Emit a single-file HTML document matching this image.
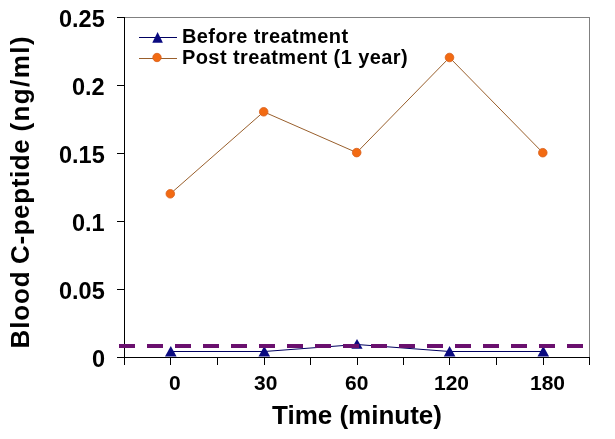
<!DOCTYPE html>
<html>
<head>
<meta charset="utf-8">
<style>
html,body{margin:0;padding:0;background:#fff;}
body{width:615px;height:439px;overflow:hidden;}
svg{display:block;}
text{font-family:"Liberation Sans",Arial,sans-serif;font-weight:bold;fill:#000;}
</style>
</head>
<body>
<svg width="615" height="439" viewBox="0 0 615 439">
<rect x="0" y="0" width="615" height="439" fill="#fff"/>
<!-- plot border (top/right gray) -->
<line x1="124" y1="17.5" x2="590" y2="17.5" stroke="#808080" stroke-width="1"/>
<line x1="589.5" y1="17" x2="589.5" y2="357" stroke="#808080" stroke-width="1"/>
<!-- y axis -->
<line x1="124.5" y1="17" x2="124.5" y2="365" stroke="#000" stroke-width="1"/>
<!-- y ticks -->
<g stroke="#000" stroke-width="1">
<line x1="117" y1="17.5" x2="124" y2="17.5"/>
<line x1="117" y1="85.5" x2="124" y2="85.5"/>
<line x1="117" y1="153.5" x2="124" y2="153.5"/>
<line x1="117" y1="221.5" x2="124" y2="221.5"/>
<line x1="117" y1="289.5" x2="124" y2="289.5"/>
<line x1="117" y1="357.5" x2="124" y2="357.5"/>
</g>
<!-- x axis -->
<line x1="124" y1="357.5" x2="590" y2="357.5" stroke="#000" stroke-width="1"/>
<g stroke="#000" stroke-width="1">
<line x1="170.5" y1="357" x2="170.5" y2="365"/>
<line x1="217.5" y1="357" x2="217.5" y2="365"/>
<line x1="264.5" y1="357" x2="264.5" y2="365"/>
<line x1="310.5" y1="357" x2="310.5" y2="365"/>
<line x1="357.5" y1="357" x2="357.5" y2="365"/>
<line x1="403.5" y1="357" x2="403.5" y2="365"/>
<line x1="449.5" y1="357" x2="449.5" y2="365"/>
<line x1="496.5" y1="357" x2="496.5" y2="365"/>
<line x1="543.5" y1="357" x2="543.5" y2="365"/>
<line x1="589.5" y1="357" x2="589.5" y2="365"/>
</g>
<!-- y tick labels -->
<g font-size="23.5">
<text x="59" y="27">0.25</text>
<text x="72" y="95">0.2</text>
<text x="59" y="163">0.15</text>
<text x="72" y="231">0.1</text>
<text x="59" y="299">0.05</text>
<text x="92" y="367">0</text>
</g>
<!-- x tick labels -->
<g font-size="21">
<text x="169" y="390">0</text>
<text x="254" y="390">30</text>
<text x="345" y="390">60</text>
<text x="434" y="390">120</text>
<text x="530" y="390">180</text>
</g>
<!-- axis titles -->
<text x="272" y="424" font-size="26">Time (minute)</text>
<g transform="translate(29,346.5) rotate(-90)" font-size="26">
<text x="-2" y="0" letter-spacing="0.9">Blood</text>
<text x="82.5" y="0" letter-spacing="0.6">C-peptide</text>
<text x="215" y="0" letter-spacing="1.4">(ng/ml)</text>
</g>
<!-- before treatment series -->
<polyline points="170.8,351.5 264.3,351.5 357.0,344.5 449.6,351.5 543.3,351.5" fill="none" stroke="#000060" stroke-width="1"/>
<g fill="#0a0a80">
<polygon points="170.8,345.9 165.0,356.6 176.6,356.6"/>
<polygon points="264.3,345.9 258.5,356.6 270.1,356.6"/>
<polygon points="357.0,338.9 351.4,348.7 362.6,348.7"/>
<polygon points="449.6,345.9 443.8,356.6 455.4,356.6"/>
<polygon points="543.3,345.9 537.5,356.6 549.1,356.6"/>
</g>
<!-- dashed reference line -->
<line x1="119" y1="346" x2="590" y2="346" stroke="#6a106e" stroke-width="4" stroke-dasharray="16 12"/>
<!-- post treatment series -->
<polyline points="170.3,193.8 263.7,111.8 356.7,152.6 449.5,57.5 542.8,152.7" fill="none" stroke="#995f2c" stroke-width="1"/>
<g fill="#f26a12" stroke="#d8601c" stroke-width="0.8">
<circle cx="170.3" cy="193.8" r="4.3"/>
<circle cx="263.7" cy="111.8" r="4.3"/>
<circle cx="356.7" cy="152.6" r="4.3"/>
<circle cx="449.5" cy="57.5" r="4.3"/>
<circle cx="542.8" cy="152.7" r="4.3"/>
</g>
<!-- legend -->
<line x1="139" y1="37.5" x2="177" y2="37.5" stroke="#000060" stroke-width="1"/>
<polygon points="157.6,32 152.3,42.8 162.9,42.8" fill="#0a0a80"/>
<line x1="139" y1="58.5" x2="177" y2="58.5" stroke="#995f2c" stroke-width="1"/>
<circle cx="157" cy="57.5" r="4.2" fill="#f26a12" stroke="#d8601c" stroke-width="0.8"/>
<g font-size="20" letter-spacing="0.4">
<text x="182" y="43">Before treatment</text>
<text x="182" y="64">Post treatment (1 year)</text>
</g>
</svg>
</body>
</html>
